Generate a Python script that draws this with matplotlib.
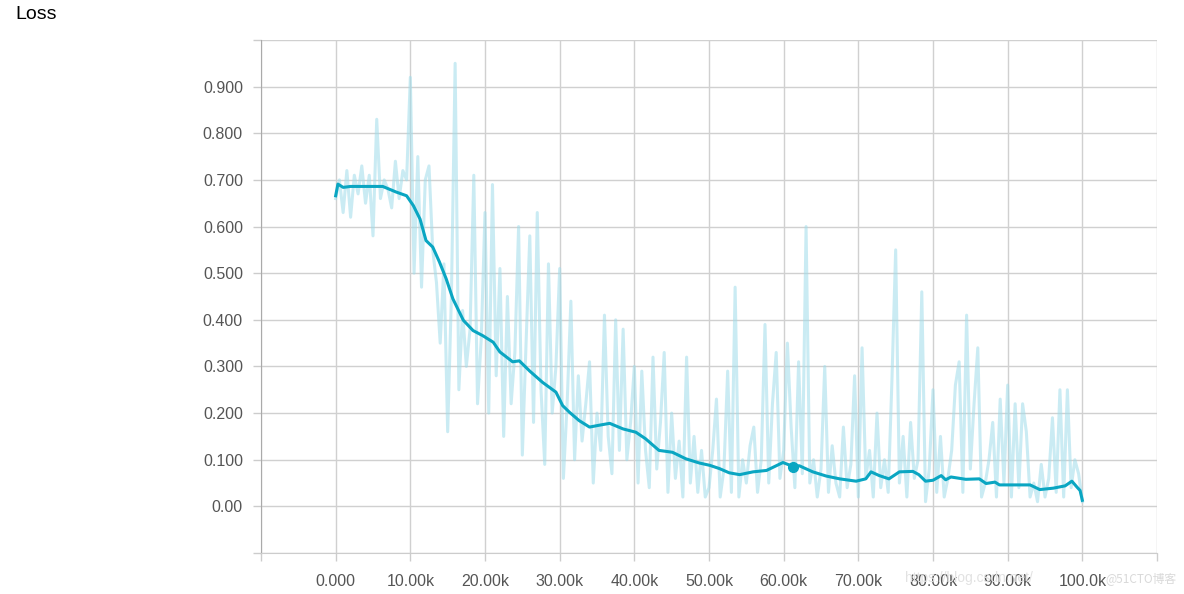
import matplotlib
matplotlib.use("Agg")
import matplotlib.pyplot as plt
import numpy as np

# Datos crudos (cada 500 pasos, 0 .. 100k)
raw_steps = np.arange(0, 100001, 500)
raw_loss = [
    0.66, 0.70, 0.63, 0.72, 0.62, 0.71, 0.67, 0.73, 0.65, 0.71,
    0.58, 0.83, 0.66, 0.70, 0.68, 0.64, 0.74, 0.66, 0.72, 0.70,
    0.92, 0.50, 0.75, 0.47, 0.70, 0.73, 0.55, 0.48, 0.35, 0.52,
    0.16, 0.45, 0.95, 0.25, 0.42, 0.30, 0.38, 0.71, 0.22, 0.36,
    0.63, 0.20, 0.69, 0.28, 0.51, 0.15, 0.45, 0.22, 0.33, 0.60,
    0.11, 0.35, 0.58, 0.18, 0.63, 0.25, 0.09, 0.52, 0.20, 0.30,
    0.51, 0.06, 0.22, 0.44, 0.10, 0.28, 0.14, 0.22, 0.31, 0.05,
    0.20, 0.12, 0.41, 0.15, 0.07, 0.40, 0.12, 0.38, 0.10, 0.18,
    0.30, 0.05, 0.29, 0.12, 0.04, 0.32, 0.08, 0.18, 0.33, 0.03,
    0.20, 0.06, 0.14, 0.02, 0.32, 0.05, 0.15, 0.03, 0.12, 0.02,
    0.04, 0.12, 0.23, 0.02, 0.08, 0.29, 0.03, 0.47, 0.02, 0.10,
    0.05, 0.13, 0.17, 0.03, 0.10, 0.39, 0.05, 0.22, 0.33, 0.06,
    0.12, 0.35, 0.17, 0.04, 0.31, 0.07, 0.60, 0.05, 0.10, 0.02,
    0.08, 0.30, 0.03, 0.13, 0.05, 0.02, 0.17, 0.04, 0.09, 0.28,
    0.02, 0.34, 0.06, 0.12, 0.02, 0.20, 0.04, 0.10, 0.03, 0.27,
    0.55, 0.05, 0.15, 0.02, 0.18, 0.06, 0.10, 0.46, 0.01, 0.08,
    0.25, 0.03, 0.15, 0.02, 0.06, 0.12, 0.26, 0.31, 0.03, 0.41,
    0.08, 0.22, 0.34, 0.02, 0.05, 0.10, 0.18, 0.02, 0.23, 0.05,
    0.26, 0.02, 0.22, 0.04, 0.22, 0.16, 0.02, 0.05, 0.01, 0.09,
    0.02, 0.06, 0.19, 0.03, 0.25, 0.02, 0.25, 0.04, 0.10, 0.07,
    0.01,
]

# Curva suavizada
smooth_steps = [
    0, 300, 1000, 2000, 4000, 6300, 8100, 9500, 10400, 11300,
    12100, 13000, 13900, 14800, 15700, 17100, 18400, 19700, 21100, 22000,
    23700, 24600, 26000, 27700, 29500, 30400, 31300, 32600, 34000, 35300,
    36700, 38500, 40200, 41500, 43300, 45100, 46900, 48700, 50100, 51400,
    52700, 54100, 55900, 57700, 59900, 61200, 62100, 63900, 65700, 67500,
    69700, 71000, 71700, 72800, 74100, 75500, 77300, 78100, 79000, 80000,
    81100, 81700, 82400, 84400, 86200, 87100, 88300, 88900, 91200, 93000,
    94300, 96100, 97700, 98600, 99300, 99700, 100000,
]
smooth_loss = [
    0.666, 0.691, 0.684, 0.686, 0.686, 0.686, 0.674, 0.666, 0.645, 0.616,
    0.570, 0.556, 0.524, 0.488, 0.445, 0.399, 0.377, 0.366, 0.352, 0.331,
    0.310, 0.312, 0.290, 0.266, 0.245, 0.216, 0.202, 0.184, 0.170, 0.174,
    0.178, 0.166, 0.159, 0.145, 0.120, 0.116, 0.102, 0.093, 0.088, 0.081,
    0.072, 0.068, 0.074, 0.077, 0.094, 0.086, 0.087, 0.074, 0.065, 0.059,
    0.054, 0.059, 0.074, 0.066, 0.059, 0.074, 0.075, 0.068, 0.054, 0.056,
    0.066, 0.057, 0.063, 0.058, 0.059, 0.049, 0.052, 0.046, 0.046, 0.046,
    0.036, 0.039, 0.044, 0.054, 0.041, 0.034, 0.013,
]

# Punto resaltado
marker_step = [61200]
marker_loss = [0.084]

x_ticks = np.arange(-10000, 110001, 10000)
x_labels = ["", "0.000", "10.00k", "20.00k", "30.00k", "40.00k", "50.00k",
            "60.00k", "70.00k", "80.00k", "90.00k", "100.0k", ""]
y_ticks = np.round(np.arange(-0.1, 1.01, 0.1), 2)
y_labels = ["", "0.00", "0.100", "0.200", "0.300", "0.400", "0.500",
            "0.600", "0.700", "0.800", "0.900", ""]

color = "#0aa6c2"
font = ["Liberation Sans", "DejaVu Sans"]

fig = plt.figure(figsize=(11.84, 5.94), dpi=100)
ax = fig.add_axes([261 / 1184, 1 - 553 / 594, (1157 - 261) / 1184, (553 - 40) / 594])

ax.plot(raw_steps, raw_loss, color="#9fdcea", alpha=0.55, lw=2.2,
        solid_joinstyle="round", zorder=2)
ax.plot(smooth_steps, smooth_loss, color=color, lw=2.2, zorder=3)
ax.plot(marker_step, marker_loss, "o", color=color, ms=7, zorder=4)

ax.set_xlim(-10000, 110000)
ax.set_ylim(-0.1, 1.0)
ax.set_xticks(x_ticks)
ax.set_xticklabels(x_labels, fontfamily=font, fontsize=11.5, color="#555555")
ax.set_yticks(y_ticks)
ax.set_yticklabels(y_labels, fontfamily=font, fontsize=11.5, color="#555555")
ax.tick_params(axis="both", length=6, width=1, color="#cccccc")
ax.tick_params(axis="x", pad=9)
ax.tick_params(axis="y", pad=7)

ax.grid(True, color="#d0d0d0", lw=1)
ax.set_axisbelow(True)
for s in ["top", "right"]:
    ax.spines[s].set_visible(False)
ax.spines["left"].set_color("#aaaaaa")
ax.spines["bottom"].set_color("#cccccc")

fig.text(15 / 1184, 1 - 6 / 594, "Loss", fontsize=14, fontfamily=font,
         va="top", ha="left", color="black")

# Marca de agua
fig.text(905 / 1184, 1 - 578 / 594, "https://blog.csdn.net/", fontsize=10,
         color="#e2e2e2", va="center", ha="left", fontfamily=font)
fig.text(1176 / 1184, 1 - 580 / 594, "@51CTO博客", fontsize=8.5,
         color="#d9d9d9", va="center", ha="right",
         fontfamily=["Noto Sans CJK SC", "DejaVu Sans"])

fig.savefig("out.png", dpi=100)
